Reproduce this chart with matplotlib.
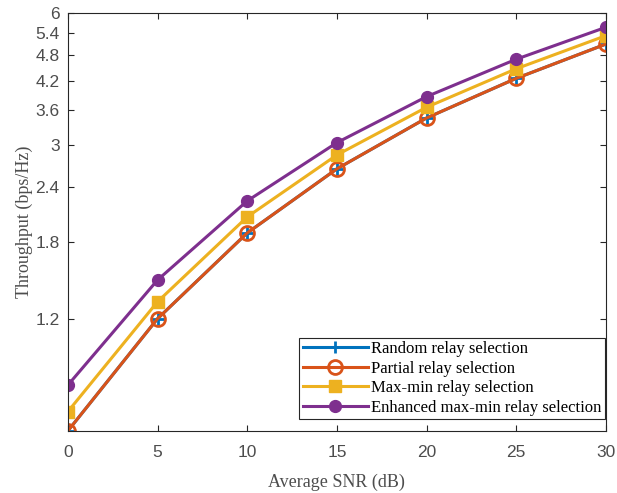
import matplotlib
matplotlib.use("Agg")
import matplotlib.pyplot as plt
from matplotlib.ticker import FixedLocator, NullLocator, FixedFormatter

# ── data ─────────────────────────────────────────────────────
snr = [0, 5, 10, 15, 20, 25, 30]
random_sel   = [0.665, 1.20, 1.884, 2.64, 3.45, 4.25, 5.09]
partial_sel  = [0.665, 1.20, 1.884, 2.64, 3.45, 4.25, 5.09]
maxmin_sel   = [0.736, 1.312, 2.05, 2.84, 3.65, 4.47, 5.32]
enhanced_sel = [0.846, 1.471, 2.23, 3.03, 3.86, 4.70, 5.56]

y_ticks = [1.2, 1.8, 2.4, 3, 3.6, 4.2, 4.8, 5.4, 6]
y_tick_labels = ["1.2", "1.8", "2.4", "3", "3.6", "4.2", "4.8", "5.4", "6"]
x_ticks = [0, 5, 10, 15, 20, 25, 30]

serif = "Liberation Serif"
sans = "Liberation Sans"

fig = plt.figure(figsize=(6.17, 4.93), dpi=100)
ax = fig.add_axes([0.110, 0.126, 0.872, 0.848])

lw = 2.2
ax.plot(snr, random_sel, color="#0072BD", lw=lw, marker="+", ms=9, mew=2,
        label="Random relay selection")
ax.plot(snr, partial_sel, color="#D95319", lw=lw, marker="o", ms=10, mew=2,
        mfc="none", label="Partial relay selection")
ax.plot(snr, maxmin_sel, color="#EDB120", lw=lw, marker="s", ms=8,
        mfc="#EDB120", label="Max-min relay selection")
ax.plot(snr, enhanced_sel, color="#7E2F8E", lw=lw, marker="o", ms=8.5,
        mfc="#7E2F8E", label="Enhanced max-min relay selection")

ax.set_yscale("log")
ax.set_ylim(0.665, 6)
ax.set_xlim(0, 30)
ax.yaxis.set_major_locator(FixedLocator(y_ticks))
ax.yaxis.set_major_formatter(FixedFormatter(y_tick_labels))
ax.yaxis.set_minor_locator(NullLocator())
ax.set_xticks(x_ticks)

ax.tick_params(direction="in", top=True, right=True, length=4, width=0.8,
               labelsize=12.5, colors="#262626", labelcolor="#4d4d4d")
ax.tick_params(axis="x", pad=10)
ax.tick_params(axis="y", pad=6)
for lab in ax.get_xticklabels() + ax.get_yticklabels():
    lab.set_family(sans)
for s in ax.spines.values():
    s.set_linewidth(0.8)
    s.set_edgecolor("#262626")

ax.set_xlabel("Average SNR (dB)", family=serif, fontsize=13, color="#4d4d4d",
              labelpad=10)
ax.set_ylabel("Throughput (bps/Hz)", family=serif, fontsize=13, color="#4d4d4d",
              labelpad=2)

leg = ax.legend(loc="lower right", bbox_to_anchor=(0.998, 0.028),
                prop={"family": serif, "size": 12}, fancybox=False,
                edgecolor="#262626", framealpha=1, borderpad=0.2,
                labelspacing=0.22, handlelength=3.9, handletextpad=0.2,
                borderaxespad=0.0)
leg.get_frame().set_linewidth(0.8)

fig.savefig("out.png", dpi=100)
